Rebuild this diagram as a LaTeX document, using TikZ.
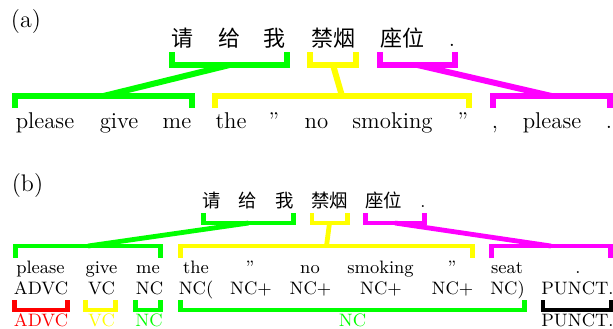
\documentclass[tikz,border=0pt]{standalone}
\usepackage{fontspec}
\newfontfamily\cjk{Noto Sans CJK SC}
\definecolor{cgreen}{RGB}{0,255,0}
\definecolor{cyellow}{RGB}{255,255,0}
\definecolor{cmag}{RGB}{255,0,255}
\definecolor{cred}{RGB}{255,0,0}
\begin{document}
\begin{tikzpicture}[x=0.5pt,y=-0.5pt,
  lab/.style={anchor=base, inner sep=0pt, font=\fontsize{12}{14}\selectfont},
  wa/.style={anchor=base, inner sep=0pt, font=\fontsize{11.4}{13}\selectfont},
  za/.style={anchor=base, inner sep=0pt, font=\cjk\fontsize{11}{13}\selectfont},
  wb/.style={anchor=base, inner sep=0pt, font=\fontsize{9}{11}\selectfont},
  zb/.style={anchor=base, inner sep=0pt, font=\cjk\fontsize{9.2}{11}\selectfont},
  brA/.style={line width=3pt, line join=miter},
  brB/.style={line width=2.4pt, line join=miter},
]
\useasboundingbox (0,0) rectangle (613,328);

% ---------------- (a) ----------------
\node[lab] (la) at (26,27) {(a)};
\node[za] (ca1) at (182.5,46.5) {请};
\node[za] (ca2) at (229,46.5) {给};
\node[za] (ca3) at (274,46.5) {我};
\node[za] (ca4) at (333,46.5) {禁烟};
\node[za] (ca5) at (402.5,46.5) {座位};
\node[wa] (ca6) at (452,46.5) {.};

\node[wa] (ea1) at (45,128) {please};
\node[wa] (ea2) at (119,128) {give};
\node[wa] (ea3) at (177,128) {me};
\node[wa] (ea4) at (231,128) {the};
\node[wa] (ea5) at (274,128) {''};
\node[wa] (ea6) at (316.5,128) {no};
\node[wa] (ea7) at (392.5,128) {smoking};
\node[wa] (ea8) at (463,128) {''};
\node[wa] (ea9) at (495,128) {,};
\node[wa] (ea10) at (552,128) {please};
\node[wa] (ea11) at (609,128) {.};

% upper brackets
\draw[brA,cgreen] (172,52) -- (172,65) -- (287,65) -- (287,52);
\draw[brA,cyellow] (310,52) -- (310,65) -- (356,65) -- (356,52);
\draw[brA,cmag] (380,52) -- (380,65) -- (455,65) -- (455,52);
% lower brackets
\draw[brA,cgreen] (15,108) -- (15,96) -- (192,96) -- (192,108);
\draw[brA,cyellow] (215,108) -- (215,96) -- (469,96) -- (469,108);
\draw[brA,cmag] (493,108) -- (493,96) -- (610,96) -- (610,108);
% connectors
\coordinate (gUa) at (229.5,65); \coordinate (gLa) at (103.5,96);
\coordinate (yUa) at (333,65);   \coordinate (yLa) at (342,96);
\coordinate (mUa) at (417.5,65); \coordinate (mLa) at (551.5,96);
\draw[brA,cgreen] (gUa) -- (gLa);
\draw[brA,cyellow] (yUa) -- (yLa);
\draw[brA,cmag] (mUa) -- (mLa);

% ---------------- (b) ----------------
\node[lab] (lb) at (27.5,191.5) {(b)};
\node[zb] (cb1) at (212,207) {请};
\node[zb] (cb2) at (248,207) {给};
\node[zb] (cb3) at (285,207) {我};
\node[zb] (cb4) at (329.5,207) {禁烟};
\node[zb] (cb5) at (383.5,207) {座位};
\node[wb] (cb6) at (423,207) {.};

\node[wb] (eb1) at (40.5,273.5) {please};
\node[wb] (eb2) at (101.5,273.5) {give};
\node[wb] (eb3) at (148,273.5) {me};
\node[wb] (eb4) at (196,273.5) {the};
\node[wb] (eb5) at (250,273.5) {''};
\node[wb] (eb6) at (310,273.5) {no};
\node[wb] (eb7) at (380.5,273.5) {smoking};
\node[wb] (eb8) at (452,273.5) {''};
\node[wb] (eb9) at (507,273.5) {seat};
\node[wb] (eb10) at (578,273.5) {.};

\node[wb] (tb1) at (41,294.5) {ADVC};
\node[wb] (tb2) at (101.5,294.5) {VC};
\node[wb] (tb3) at (149.5,294.5) {NC};
\node[wb] (tb4) at (196,294.5) {NC(};
\node[wb] (tb5) at (251,294.5) {NC+};
\node[wb] (tb6) at (310.5,294.5) {NC+};
\node[wb] (tb7) at (381,294.5) {NC+};
\node[wb] (tb8) at (452.5,294.5) {NC+};
\node[wb] (tb9) at (507.5,294.5) {NC)};
\node[wb] (tb10) at (577.5,294.5) {PUNCT.};

\node[wb,text=cred] (rb1) at (41,326.5) {ADVC};
\node[wb,text=cyellow] (rb2) at (101.5,326.5) {VC};
\node[wb,text=cgreen] (rb3) at (149,326.5) {NC};
\node[wb,text=cgreen] (rb4) at (352.5,326.5) {NC};
\node[wb] (rb5) at (577.5,326.5) {PUNCT.};

% upper brackets
\draw[brB,cgreen] (203.5,213) -- (203.5,223) -- (293.5,223) -- (293.5,213);
\draw[brB,cyellow] (312,213) -- (312,223) -- (347.5,223) -- (347.5,213);
\draw[brB,cmag] (365.5,213) -- (365.5,223) -- (424.5,223) -- (424.5,213);
% lower brackets
\draw[brB,cgreen] (15.5,258) -- (15.5,246) -- (160.5,246) -- (160.5,258);
\draw[brB,cyellow] (180.5,258) -- (180.5,246) -- (472.5,246) -- (472.5,258);
\draw[brB,cmag] (491.5,258) -- (491.5,246) -- (610.5,246) -- (610.5,258);
% connectors
\coordinate (gUb) at (248.5,223); \coordinate (gLb) at (88,246);
\coordinate (yUb) at (329.5,223); \coordinate (yLb) at (326.5,246);
\coordinate (mUb) at (395,223);   \coordinate (mLb) at (551,246);
\draw[brB,cgreen] (gUb) -- (gLb);
\draw[brB,cyellow] (yUb) -- (yLb);
\draw[brB,cmag] (mUb) -- (mLb);

% chunk brackets
\draw[brB,cred] (14.5,300) -- (14.5,310) -- (67.5,310) -- (67.5,300);
\draw[brB,cyellow] (85.5,300) -- (85.5,310) -- (115.5,310) -- (115.5,300);
\draw[brB,cgreen] (135.5,300) -- (135.5,310) -- (160.5,310) -- (160.5,300);
\draw[brB,cgreen] (180.5,300) -- (180.5,310) -- (524.5,310) -- (524.5,300);
\draw[line width=2pt, line join=miter, black] (542.5,300) -- (542.5,310) -- (611,310) -- (611,300);
\end{tikzpicture}
\end{document}
